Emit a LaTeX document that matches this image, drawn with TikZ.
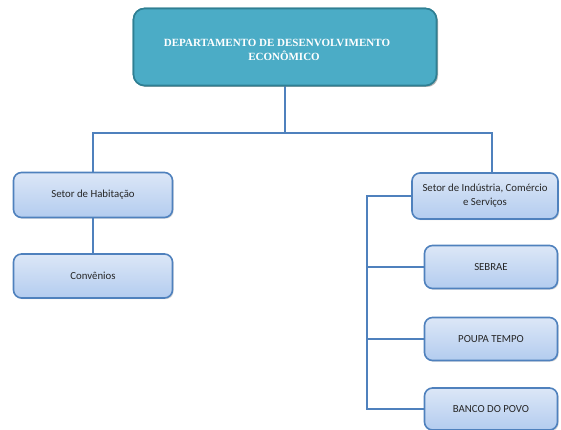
\documentclass[tikz,border=0pt]{standalone}
\usepackage{fontspec}
\setmainfont{Carlito}
\newfontfamily\titlefont{Liberation Serif}
\usetikzlibrary{shadows}
\definecolor{deptfill}{HTML}{4BACC6}
\definecolor{deptdraw}{HTML}{2F7F93}
\definecolor{unitdraw}{HTML}{4F81BD}
\definecolor{unittop}{HTML}{DCE7F7}
\definecolor{unitbot}{HTML}{B3CCEF}
\definecolor{linkcol}{HTML}{4F81BD}
\tikzset{
  dept/.style={draw=deptdraw, line width=1.6pt, fill=deptfill, rounded corners=11pt,
    drop shadow={opacity=0.35, shadow xshift=1.5pt, shadow yshift=-1.5pt}},
  depttext/.style={text=white, font=\titlefont\bfseries\fontsize{11}{14.5}\selectfont, align=center},
  unit/.style={draw=unitdraw, line width=1.6pt, rounded corners=8pt,
    top color=unittop, bottom color=unitbot, align=center,
    font=\fontsize{10.8}{14}\selectfont, text=black!85,
    drop shadow={opacity=0.3, shadow xshift=1.2pt, shadow yshift=-1.2pt}},
  link/.style={draw=linkcol, line width=2pt}
}
\begin{document}
\begin{tikzpicture}[x=1pt, y=-1pt]
  \useasboundingbox (0,0) rectangle (561,430);

  % department box
  \node[dept, minimum width=303pt, minimum height=77pt] (dep) at (285,47) {};
  \node[depttext] (deptitle) at (277,50)
    {DEPARTAMENTO DE DESENVOLVIMENTO\\\hspace*{14pt}ECONÔMICO};

  % sectors
  \node[unit, minimum width=159pt, minimum height=45pt] (hab) at (93,195) {Setor de Habitação};
  \node[unit, minimum width=159pt, minimum height=44pt] (conv) at (93,276) {Convênios};
  \node[unit, minimum width=146pt, minimum height=46pt] (ind) at (485,196)
    {Setor de Indústria, Comércio\\e Serviços};
  \node[unit, minimum width=133pt, minimum height=43pt] (sebrae) at (491,267) {SEBRAE};
  \node[unit, minimum width=133pt, minimum height=43pt] (poupa) at (491,339) {POUPA TEMPO};
  \node[unit, minimum width=133pt, minimum height=42pt] (povo) at (491,409) {BANCO DO POVO};

  % connectors
  \coordinate (busR) at (492,133);
  \coordinate (rail) at (367,0);
  \draw[link] (dep.south) -- (dep.south |- busR);
  \draw[link] (hab.north) |- (busR) -- (busR |- ind.north);
  \draw[link] (hab.south) -- (conv.north);
  \draw[link] (ind.west) -- (ind.west -| rail) -- (rail |- povo.west) -- (povo.west);
  \draw[link] (rail |- sebrae.west) -- (sebrae.west);
  \draw[link] (rail |- poupa.west) -- (poupa.west);

  % redraw boxes above the connectors
  \node[dept, minimum width=303pt, minimum height=77pt] at (dep) {};
  \node[depttext] at (deptitle)
    {DEPARTAMENTO DE DESENVOLVIMENTO\\\hspace*{14pt}ECONÔMICO};
\end{tikzpicture}
\end{document}
